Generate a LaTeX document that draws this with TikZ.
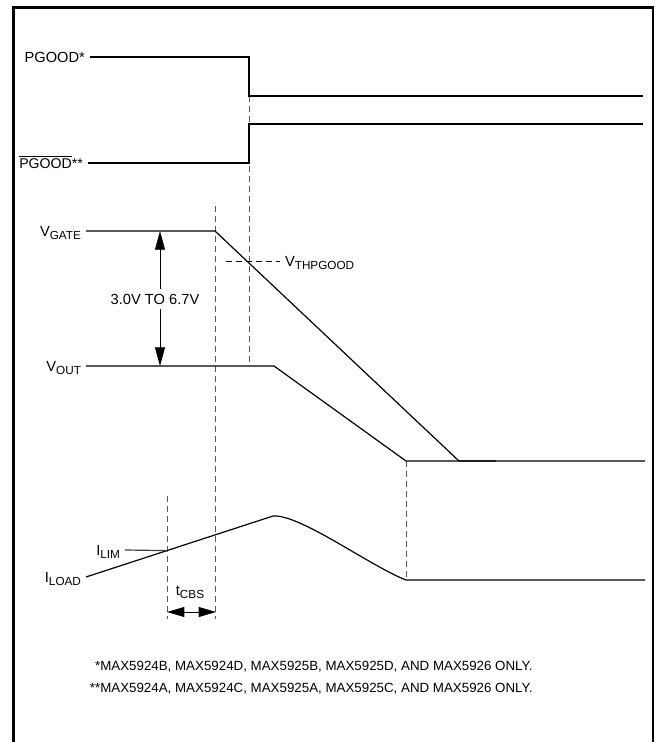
\documentclass[tikz,border=0pt]{standalone}
\usepackage{fontspec}
\setmainfont{Liberation Sans}
\usetikzlibrary{arrows.meta}
\newcommand{\lowsub}[1]{\raisebox{-2.5pt}{\fontsize{8.8}{10}\selectfont #1}}
\tikzset{
  wave/.style={line width=0.9pt},
  guide/.style={line width=0.5pt, black!65, dash pattern=on 4.5pt off 3pt},
  siglabel/.style={font=\fontsize{11}{13}\selectfont, text height=7.9pt, text depth=0pt, inner sep=3.5pt},
  noteline/.style={font=\fontsize{10}{12}\selectfont, anchor=east, inner sep=0pt},
  bigtip/.style={-{Triangle[length=14pt,width=7.5pt]}},
  twotip/.style={{Triangle[length=13pt,width=7.5pt]}-{Triangle[length=13pt,width=7.5pt]}}
}
\begin{document}
\begin{tikzpicture}[x=0.75pt,y=-0.75pt,line width=0.6pt]
\useasboundingbox (0,0) rectangle (654,742);
\draw[line width=1.9pt] (13.5,742) -- (13.5,7.5) -- (653,7.5) -- (653,742);
\node[siglabel,anchor=east] (pgood) at (90,57) {PGOOD*};
\node[siglabel,anchor=east,font=\fontsize{10.6}{13}\selectfont] (npgood) at (88,163) {$\overline{\mbox{PGOOD}}$**};
\node[siglabel,anchor=east] (vgate) at (86,231) {V\lowsub{GATE}};
\node[siglabel,anchor=east] (vout) at (86,366) {V\lowsub{OUT}};
\node[siglabel,anchor=east] (iload) at (86,577) {I\lowsub{LOAD}};
\node[siglabel,anchor=east] (ilim) at (125,550) {I\lowsub{LIM}};
\node[siglabel,anchor=west] (vth) at (280,261) {V\lowsub{THPGOOD}};
\node[siglabel] (tcbs) at (190,590) {t\lowsub{CBS}};
\node[siglabel] (range) at (155,299) {3.0V TO 6.7V};
\coordinate (drop) at (249,96);
\coordinate (gatetop) at (160,231);
\coordinate (outbot) at (160,366);
\coordinate (limcross) at (167,550.6);
\coordinate (tleft) at (167,612);
\coordinate (tright) at (216,612);
\draw[guide] (drop) -- (249,362);
\draw[guide] (215,206) -- (215,619);
\draw[guide] (167,496) -- (167,619);
\draw[guide] (406,461) -- (406,578);
\draw[guide, black] (226,261) -- (vth.west);
\draw[wave] (pgood.east) -- (249,57) -- (drop) -- (643,96);
\draw[wave] (npgood.east) -- (249,163) -- (249,124) -- (643,124);
\draw[wave] (vgate.east) -- (215,231) -- (459,461) -- (496,461);
\draw[wave] (vout.east) -- (274,366) -- (406,461) -- (645,461);
\draw[wave] (iload.east) -- (273,516) .. controls (300,514) and (370,566) .. (406,580) -- (645,580);
\draw[wave, black!75] (ilim.east) -- (limcross);
\draw[bigtip] (range.north -| gatetop) -- (gatetop);
\draw[bigtip] (range.south -| outbot) -- (outbot);
\draw[twotip] (tleft) -- (tright);
\node[noteline] (note1) at (533,667) {*MAX5924B, MAX5924D, MAX5925B, MAX5925D, AND MAX5926 ONLY.};
\node[noteline] (note2) at (533,689) {**MAX5924A, MAX5924C, MAX5925A, MAX5925C, AND MAX5926 ONLY.};
\end{tikzpicture}
\end{document}
